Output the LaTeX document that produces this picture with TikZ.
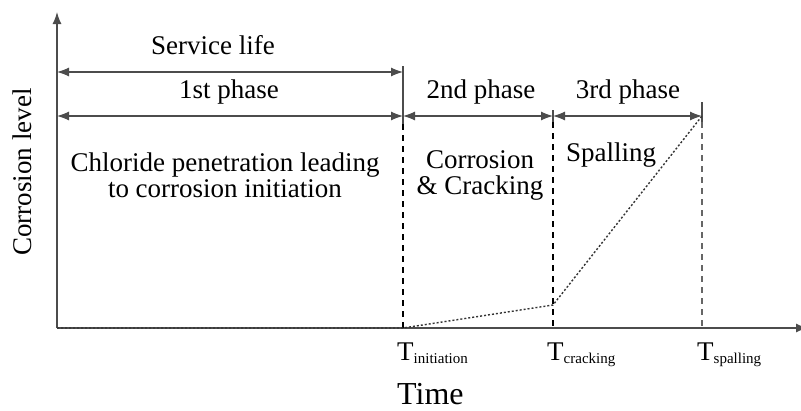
\documentclass[tikz,border=0pt]{standalone}
\usepackage{fontspec}
\setmainfont{Liberation Serif}
\usetikzlibrary{positioning,arrows.meta,calc}

\begin{document}
\begin{tikzpicture}[
  x=1pt, y=-1pt,
  >={Latex[length=12pt,width=9pt]},
  font=\fontsize{27}{26}\selectfont,
  axis/.style={draw=black!70, line width=1.3pt},
  span/.style={<->, draw=black!70, line width=1.1pt},
  mark line/.style={draw=black, line width=1.2pt, dash pattern=on 6pt off 5pt},
  trend/.style={draw=black!80, line width=1.4pt, dash pattern=on 2pt off 2pt},
  lab/.style={inner sep=1pt, align=center},
  tlab/.style={inner sep=0pt, anchor=base west}
]
\useasboundingbox (0,0) rectangle (801,410);

% axes
\coordinate (o) at (57,328);
\coordinate (ytop) at (57,12);
\coordinate (xend) at (808,328);
\draw[axis, ->] (o) -- (ytop);
\draw[axis, ->] (o) -- (xend);

% phase boundaries
\coordinate (ti) at (403,328);
\coordinate (tc) at (553,328);
\coordinate (ts) at (702,328);
\coordinate (sl) at (403,72);
\coordinate (ph1) at (57,116);
\coordinate (bi) at (403,116);
\coordinate (bc) at (553,116);
\coordinate (bs) at (702,116);

\draw[axis, line width=1.1pt] ($(sl)+(0,-6)$) -- ($(bi)+(0,8)$);
\draw[mark line] ($(bi)+(0,8)$) -- (ti);
\draw[axis, line width=1.1pt] ($(bc)+(0,-6)$) -- ($(bc)+(0,6)$);
\draw[mark line] ($(bc)+(0,6)$) -- (tc);
\draw[axis, line width=1.1pt] ($(bs)+(0,-14)$) -- ($(bs)+(0,6)$);
\draw[mark line, draw=black!60] ($(bs)+(0,6)$) -- (ts);

% spans
\draw[span] (o |- sl) -- (sl);
\draw[span] (ph1) -- (bi);
\draw[span] (bi) -- (bc);
\draw[span] (bc) -- (bs);

\node[lab] (service) at (213,45) {Service life};
\node[lab] (first) at (229,92) {1st phase};
\node[lab] (second) at (481,92) {2nd phase};
\node[lab] (third) at (628,92) {3rd phase};

% corrosion trend
\coordinate (crack) at (553,305);
\draw[trend] (o) -- (ti) -- (crack) -- (bs);

\node[lab] (chloride) at (225,175) {Chloride penetration leading\\to corrosion initiation};
\node[lab] (corr) at (480,175) {Corrosion\\\& Cracking};
\node[lab] (spall) at (611,155) {Spalling};

% labels
\node[lab, rotate=90] (ylab) at (22,172) {Corrosion level};
\node[tlab] (tinit) at (397,360) {T\textsubscript{\fontsize{15}{16}\selectfont initiation}};
\node[tlab] (tcrack) at (547,360) {T\textsubscript{\fontsize{15}{16}\selectfont cracking}};
\node[tlab] (tspall) at (697,360) {T\textsubscript{\fontsize{15}{16}\selectfont spalling}};
\node[tlab, font=\fontsize{32}{34}\selectfont] (time) at (397,404) {Time};

\end{tikzpicture}
\end{document}
